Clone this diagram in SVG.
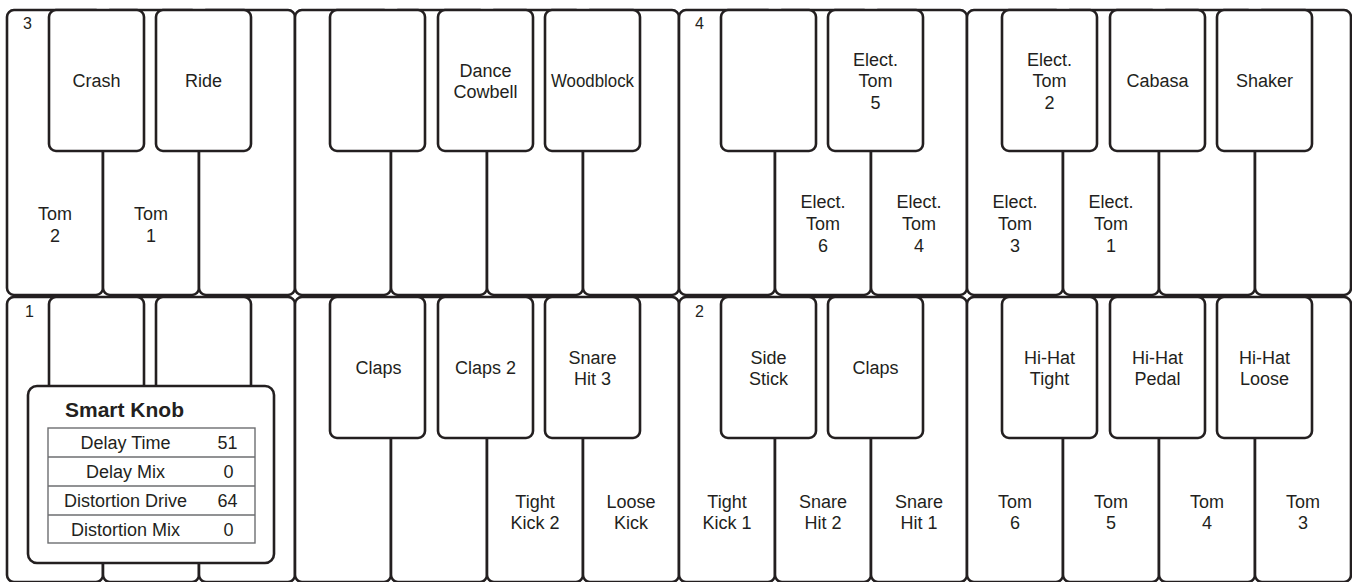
<svg xmlns="http://www.w3.org/2000/svg" width="1352" height="582" viewBox="0 0 1352 582">
<style>
.wk{fill:#fff;stroke:#231f20;stroke-width:2.6}
.bk{fill:#fff;stroke:#231f20;stroke-width:2.6}
.t{font-family:"Liberation Sans",Arial,sans-serif;font-size:18px;fill:#231f20;text-anchor:middle}
.n{font-family:"Liberation Sans",Arial,sans-serif;font-size:16px;fill:#231f20}
.tt{font-family:"Liberation Sans",Arial,sans-serif;font-size:18px;fill:#231f20;text-anchor:middle}
.ttl{font-family:"Liberation Sans",Arial,sans-serif;font-size:21px;font-weight:bold;fill:#231f20}
.kb{fill:#fff;stroke:#231f20;stroke-width:2.6}
.tb{fill:none;stroke:#6d6e71;stroke-width:1.4}
</style>
<defs>
<rect id="W" class="wk" width="96" height="285" rx="7"/>
<rect id="B" class="bk" width="95" height="141" rx="7"/>
</defs>
<rect width="1352" height="582" fill="#fff"/>
<!-- TOP ROW -->
<g id="top-row">
<g id="top-white">
<use href="#W" x="7" y="10"/><use href="#W" x="103" y="10"/><use href="#W" x="199" y="10"/><use href="#W" x="295" y="10"/><use href="#W" x="391" y="10"/><use href="#W" x="487" y="10"/><use href="#W" x="583" y="10"/><use href="#W" x="679" y="10"/><use href="#W" x="775" y="10"/><use href="#W" x="871" y="10"/><use href="#W" x="967" y="10"/><use href="#W" x="1063" y="10"/><use href="#W" x="1159" y="10"/><use href="#W" x="1255" y="10"/>
</g>
<g id="top-black">
<use href="#B" x="49" y="10"/><use href="#B" x="156" y="10"/><use href="#B" x="330" y="10"/><use href="#B" x="438" y="10"/><use href="#B" x="545" y="10"/><use href="#B" x="721" y="10"/><use href="#B" x="828" y="10"/><use href="#B" x="1002" y="10"/><use href="#B" x="1110" y="10"/><use href="#B" x="1217" y="10"/>
</g>
<text class="n" x="23" y="28.5">3</text>
<text class="n" x="695" y="28.5">4</text>
<g id="top-labels">
<text class="t" x="96.5" y="87.3">Crash</text>
<text class="t" x="203.5" y="87.3">Ride</text>
<text class="t" x="485.5" y="76.5">Dance<tspan x="485.5" y="98.2">Cowbell</tspan></text>
<text class="t" x="592.5" y="87.3" textLength="83" lengthAdjust="spacingAndGlyphs">Woodblock</text>
<text class="t" x="875.5" y="65.5">Elect.<tspan x="875.5" y="87.3">Tom</tspan><tspan x="875.5" y="109">5</tspan></text>
<text class="t" x="1049.5" y="65.5">Elect.<tspan x="1049.5" y="87.3">Tom</tspan><tspan x="1049.5" y="109">2</tspan></text>
<text class="t" x="1157.5" y="87.3">Cabasa</text>
<text class="t" x="1264.5" y="87.3">Shaker</text>
<text class="t" x="55" y="220">Tom<tspan x="55" y="241.7">2</tspan></text>
<text class="t" x="151" y="220">Tom<tspan x="151" y="241.7">1</tspan></text>
<text class="t" x="823" y="208.3">Elect.<tspan x="823" y="230">Tom</tspan><tspan x="823" y="251.7">6</tspan></text>
<text class="t" x="919" y="208.3">Elect.<tspan x="919" y="230">Tom</tspan><tspan x="919" y="251.7">4</tspan></text>
<text class="t" x="1015" y="208.3">Elect.<tspan x="1015" y="230">Tom</tspan><tspan x="1015" y="251.7">3</tspan></text>
<text class="t" x="1111" y="208.3">Elect.<tspan x="1111" y="230">Tom</tspan><tspan x="1111" y="251.7">1</tspan></text>
</g>
</g>
<!-- BOTTOM ROW -->
<g id="bottom-row">
<g id="bottom-white">
<use href="#W" x="7" y="297"/><use href="#W" x="103" y="297"/><use href="#W" x="199" y="297"/><use href="#W" x="295" y="297"/><use href="#W" x="391" y="297"/><use href="#W" x="487" y="297"/><use href="#W" x="583" y="297"/><use href="#W" x="679" y="297"/><use href="#W" x="775" y="297"/><use href="#W" x="871" y="297"/><use href="#W" x="967" y="297"/><use href="#W" x="1063" y="297"/><use href="#W" x="1159" y="297"/><use href="#W" x="1255" y="297"/>
</g>
<g id="bottom-black">
<use href="#B" x="49" y="297"/><use href="#B" x="156" y="297"/><use href="#B" x="330" y="297"/><use href="#B" x="438" y="297"/><use href="#B" x="545" y="297"/><use href="#B" x="721" y="297"/><use href="#B" x="828" y="297"/><use href="#B" x="1002" y="297"/><use href="#B" x="1110" y="297"/><use href="#B" x="1217" y="297"/>
</g>
<text class="n" x="25" y="316.5">1</text>
<text class="n" x="695" y="316.5">2</text>
<g id="bottom-labels">
<text class="t" x="378.5" y="374.3">Claps</text>
<text class="t" x="485.5" y="374.3">Claps 2</text>
<text class="t" x="592.5" y="363.5">Snare<tspan x="592.5" y="385.2">Hit 3</tspan></text>
<text class="t" x="768.5" y="363.5">Side<tspan x="768.5" y="385.2">Stick</tspan></text>
<text class="t" x="875.5" y="374.3">Claps</text>
<text class="t" x="1049.5" y="363.5">Hi-Hat<tspan x="1049.5" y="385.2">Tight</tspan></text>
<text class="t" x="1157.5" y="363.5">Hi-Hat<tspan x="1157.5" y="385.2">Pedal</tspan></text>
<text class="t" x="1264.5" y="363.5">Hi-Hat<tspan x="1264.5" y="385.2">Loose</tspan></text>
<text class="t" x="535" y="507.5">Tight<tspan x="535" y="529.2">Kick 2</tspan></text>
<text class="t" x="631" y="507.5">Loose<tspan x="631" y="529.2">Kick</tspan></text>
<text class="t" x="727" y="507.5">Tight<tspan x="727" y="529.2">Kick 1</tspan></text>
<text class="t" x="823" y="507.5">Snare<tspan x="823" y="529.2">Hit 2</tspan></text>
<text class="t" x="919" y="507.5">Snare<tspan x="919" y="529.2">Hit 1</tspan></text>
<text class="t" x="1015" y="507.5">Tom<tspan x="1015" y="529.2">6</tspan></text>
<text class="t" x="1111" y="507.5">Tom<tspan x="1111" y="529.2">5</tspan></text>
<text class="t" x="1207" y="507.5">Tom<tspan x="1207" y="529.2">4</tspan></text>
<text class="t" x="1303" y="507.5">Tom<tspan x="1303" y="529.2">3</tspan></text>
</g>
</g>
<!-- SMART KNOB -->
<g id="smart-knob">
<rect class="kb" x="28" y="386" width="246" height="177" rx="9"/>
<text class="ttl" x="65" y="416.5">Smart Knob</text>
<rect class="tb" x="48" y="428" width="207" height="115"/>
<line class="tb" x1="48" y1="457" x2="255" y2="457"/>
<line class="tb" x1="48" y1="486" x2="255" y2="486"/>
<line class="tb" x1="48" y1="515" x2="255" y2="515"/>
<text class="tt" x="125.5" y="448.5">Delay Time</text><text class="tt" x="227.5" y="448.5">51</text>
<text class="tt" x="125.5" y="477.5">Delay Mix</text><text class="tt" x="228.5" y="477.5">0</text>
<text class="tt" x="125.5" y="506.5">Distortion Drive</text><text class="tt" x="227.5" y="506.5">64</text>
<text class="tt" x="125.5" y="535.5">Distortion Mix</text><text class="tt" x="228.5" y="535.5">0</text>
</g>
</svg>
